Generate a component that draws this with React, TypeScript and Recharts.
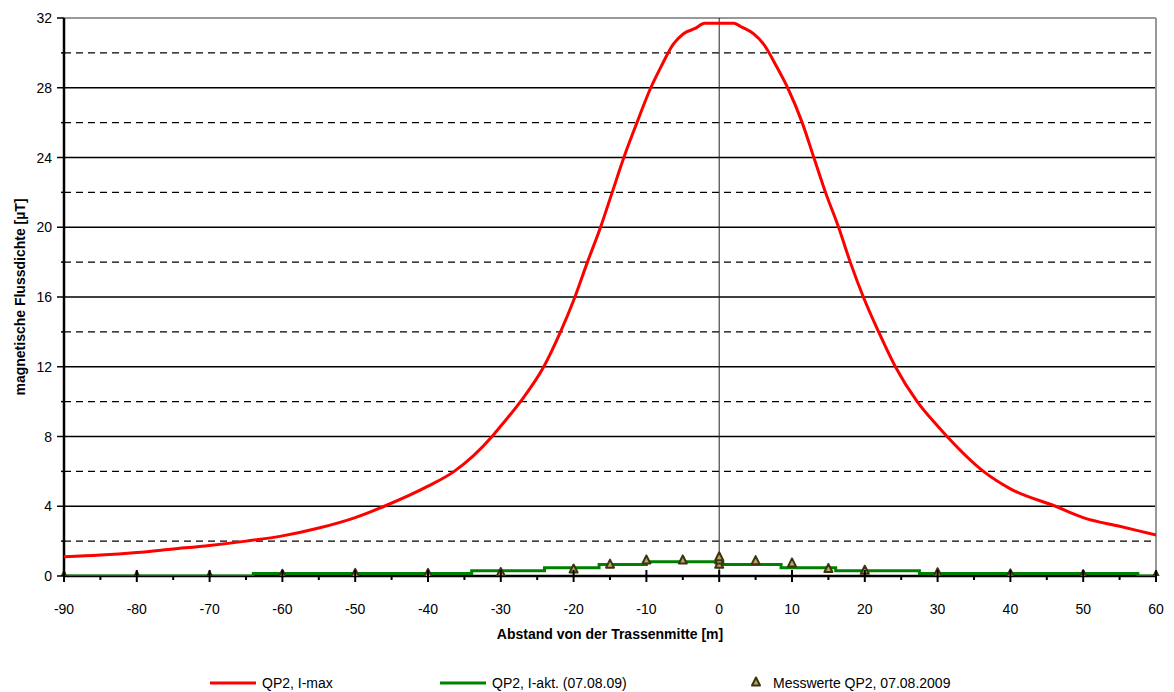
import { ComposedChart, Line, Scatter, XAxis, YAxis, ReferenceLine } from 'recharts'

// QP2, I-max (red curve)
const maxDist = [-90, -85, -80, -75, -70, -65, -60, -55, -50, -46, -40, -36.4, -31.2, -30, -27.3, -24.1, -21.8, -20, -18.1, -16.3, -14.7, -13.1, -11.3, -9.4, -8, -6.3, -4.9, -3.3, -2, 0, 2, 3, 4.7, 6.1, 7.9, 9.4, 11.4, 13, 14.6, 16.4, 18, 19.8, 21.9, 24.2, 27.2, 30, 31.3, 36.3, 40, 46.2, 50, 55, 60]
const maxVal = [1.1, 1.2, 1.35, 1.55, 1.75, 2.0, 2.3, 2.75, 3.35, 4.0, 5.15, 6.0, 8.0, 8.6, 10.0, 12.0, 14.0, 15.8, 18.0, 20.0, 22.0, 24.0, 26.0, 28.0, 29.2, 30.5, 31.1, 31.4, 31.7, 31.7, 31.7, 31.5, 31.1, 30.5, 29.2, 28.0, 26.0, 24.0, 22.0, 20.0, 18.0, 16.0, 14.0, 12.0, 10.0, 8.6, 8.0, 6.0, 5.0, 4.0, 3.35, 2.85, 2.35]

// QP2, I-akt. (07.08.09) (green step line)
const aktDist = [-90, -64, -34, -24, -16.5, -10, 0.5, 8.5, 16, 27.5, 57.5, 60]
const aktVal = [0, 0.15, 0.3, 0.47, 0.66, 0.82, 0.66, 0.48, 0.3, 0.15, 0, 0]

// Messwerte QP2, 07.08.2009
const messDist = [-90, -80, -70, -60, -50, -40, -30, -20, -15, -10, -5, 0, 0, 0, 5, 10, 15, 20, 30, 40, 50, 60]
const messVal = [0, 0, 0, 0.1, 0.15, 0.15, 0.2, 0.4, 0.68, 0.92, 0.92, 0.67, 0.92, 1.1, 0.88, 0.75, 0.43, 0.33, 0.19, 0.12, 0.08, 0.03]

const xTicks = [-90, -85, -80, -75, -70, -65, -60, -55, -50, -45, -40, -35, -30, -25, -20, -15, -10, -5, 0, 5, 10, 15, 20, 25, 30, 35, 40, 45, 50, 55, 60]
const yTicks = [0, 2, 4, 6, 8, 10, 12, 14, 16, 18, 20, 22, 24, 26, 28, 30, 32]
const solidGrid = [4, 8, 12, 16, 20, 24, 28]
const dashedGrid = [2, 6, 10, 14, 18, 22, 26, 30]

const maxData = maxDist.map((x, i) => ({ x, y: maxVal[i] }))
const aktData = aktDist.map((x, i) => ({ x, y: aktVal[i] }))
const messData = messDist.map((x, i) => ({ x, y: messVal[i] }))

const FONT = '"Liberation Sans", Arial, sans-serif'

const Triangle = (props: any) => {
  const { cx, cy } = props
  if (cx == null || cy == null) return null
  return (
    <polygon
      points={`${cx},${cy - 4.5} ${cx - 4},${cy + 3.5} ${cx + 4},${cy + 3.5}`}
      fill="#b9a462"
      stroke="#3b3510"
      strokeWidth={2}
      strokeLinejoin="round"
    />
  )
}

const XTick = (props: any) => {
  const { x, y, payload } = props
  const major = payload.value % 10 === 0
  return (
    <g>
      {major ? (
        <line x1={x} x2={x} y1={y - 6} y2={y + 6} stroke="#000" strokeWidth={2} />
      ) : (
        <line x1={x} x2={x} y1={y} y2={y + 4} stroke="#000" strokeWidth={2} />
      )}
      {major && (
        <text x={x} y={y + 38} textAnchor="middle" fontSize={14} fontFamily={FONT} fill="#000">
          {payload.value}
        </text>
      )}
    </g>
  )
}

const YTick = (props: any) => {
  const { x, y, payload } = props
  const major = payload.value % 4 === 0
  return (
    <g>
      <line x1={x - (major ? 7 : 3)} x2={x} y1={y} y2={y} stroke="#000" strokeWidth={1.5} />
      {major && (
        <text x={x - 12} y={y + 5} textAnchor="end" fontSize={14} fontFamily={FONT} fill="#000">
          {payload.value}
        </text>
      )}
    </g>
  )
}

const YLabel = (props: any) => {
  const vb = props.viewBox
  const cx = 12
  const cy = vb.y + vb.height / 2
  return (
    <text
      x={cx}
      y={cy}
      transform={`rotate(-90, ${cx}, ${cy})`}
      textAnchor="middle"
      dominantBaseline="central"
      fontSize={14}
      fontWeight="bold"
      fontFamily={FONT}
      fill="#000"
    >
      magnetische Flussdichte [µT]
    </text>
  )
}

const XLabel = (props: any) => {
  const vb = props.viewBox
  return (
    <text
      x={vb.x + vb.width / 2}
      y={626}
      textAnchor="middle"
      dominantBaseline="central"
      fontSize={14}
      fontWeight="bold"
      fontFamily={FONT}
      fill="#000"
    >
      Abstand von der Trassenmitte [m]
    </text>
  )
}

export default function App() {
  return (
    <div style={{ position: 'relative', width: 1166, height: 684, fontFamily: FONT }}>
      <ComposedChart width={1166} height={684} margin={{ top: 10, right: 18, bottom: 36, left: 0 }}>
        <XAxis
          type="number"
          dataKey="x"
          domain={[-90, 60]}
          ticks={xTicks}
          interval={0}
          tick={<XTick />}
          tickLine={false}
          tickSize={0}
          tickMargin={0}
          height={80}
          axisLine={false}
          label={<XLabel />}
        />
        <YAxis
          type="number"
          dataKey="y"
          domain={[0, 32]}
          ticks={yTicks}
          interval={0}
          tick={<YTick />}
          tickLine={false}
          tickSize={0}
          tickMargin={0}
          width={56}
          axisLine={false}
          label={<YLabel />}
          allowDataOverflow
        />
        {dashedGrid.map((v) => (
          <ReferenceLine key={'d' + v} y={v} stroke="#000" strokeWidth={1.4} strokeDasharray="7 5" />
        ))}
        {solidGrid.map((v) => (
          <ReferenceLine key={'s' + v} y={v} stroke="#000" strokeWidth={1.4} />
        ))}
        <ReferenceLine y={32} stroke="#999" strokeWidth={2} />
        <ReferenceLine x={60} stroke="#999" strokeWidth={2} />
        <ReferenceLine x={0} stroke="#222" strokeWidth={1} />
        <ReferenceLine x={-90} stroke="#000" strokeWidth={2.5} />
        <ReferenceLine y={0} stroke="#000" strokeWidth={2.5} />
        <Line
          data={maxData}
          dataKey="y"
          type="monotone"
          stroke="#ff0000"
          strokeWidth={3}
          dot={false}
          isAnimationActive={false}
        />
        <Line
          data={aktData}
          dataKey="y"
          type="stepAfter"
          stroke="#008000"
          strokeWidth={3}
          dot={false}
          isAnimationActive={false}
        />
        <Scatter data={messData} dataKey="y" shape={<Triangle />} isAnimationActive={false} />
      </ComposedChart>
      <div
        style={{
          position: 'absolute',
          top: 666,
          left: 0,
          width: 1166,
          height: 18,
          fontSize: 14,
          color: '#000',
          lineHeight: '18px',
        }}
      >
        <svg style={{ position: 'absolute', left: 202, top: 0 }} width={46} height={18}>
          <line x1={0} x2={46} y1={9} y2={9} stroke="#ff0000" strokeWidth={3} />
        </svg>
        <span style={{ position: 'absolute', left: 254, top: 0, whiteSpace: 'nowrap' }}>QP2, I-max</span>
        <svg style={{ position: 'absolute', left: 432, top: 0 }} width={46} height={18}>
          <line x1={0} x2={46} y1={9} y2={9} stroke="#008000" strokeWidth={3} />
        </svg>
        <span style={{ position: 'absolute', left: 484, top: 0, whiteSpace: 'nowrap' }}>QP2, I-akt. (07.08.09)</span>
        <svg style={{ position: 'absolute', left: 741, top: 0 }} width={14} height={18}>
          <Triangle cx={7} cy={8} />
        </svg>
        <span style={{ position: 'absolute', left: 765, top: 0, whiteSpace: 'nowrap' }}>Messwerte QP2, 07.08.2009</span>
      </div>
    </div>
  )
}
